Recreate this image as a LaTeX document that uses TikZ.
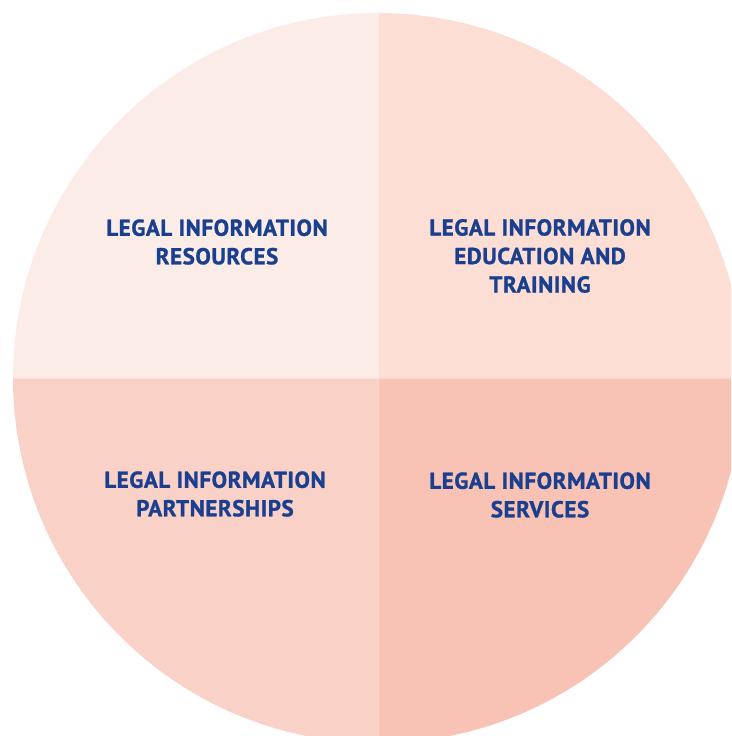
\documentclass[tikz,border=0pt]{standalone}
\usepackage{fontspec}
\setmainfont{PT Sans}
\newfontfamily\piefont{PT Sans}[LetterSpace=2.5,BoldFeatures={FakeBold=1.2}]
\usepackage{tikz}
\usetikzlibrary{positioning}
\definecolor{pieA}{HTML}{FCECE8}
\definecolor{pieB}{HTML}{FCDED5}
\definecolor{pieC}{HTML}{F9D1C7}
\definecolor{pieD}{HTML}{F8C2B5}
\definecolor{navy}{HTML}{1A3F8E}
\tikzstyle{segtext} = [align=center, text=navy, font=\piefont\fontsize{23}{28.5}\selectfont\bfseries, inner sep=0pt]
\tikzstyle{seam} = [draw=white, draw opacity=0.35, line width=0.8pt]

\begin{document}
\begin{tikzpicture}[x=1pt, y=1pt]
\useasboundingbox (0,0) rectangle (731,736);
\clip (0,0) rectangle (731,736);
\coordinate (mid) at (378,358);
% the four quarters
\fill[pieA] (mid) -- ++(-365,0) arc (180:90:365) -- cycle;
\fill[pieB] (mid) -- ++(0,365) arc (90:0:365) -- cycle;
\fill[pieC] (mid) -- ++(-365,0) arc (180:270:365) -- cycle;
\fill[pieD] (mid) -- ++(0,-365) arc (270:360:365) -- cycle;
\draw[seam] (mid) -- ++(0,365);
\draw[seam] (mid) -- ++(0,-365);
\draw[seam] (mid) -- ++(365,0);
\draw[seam] (mid) -- ++(-365,0);
% labels
\node (res) [segtext] at (217,494) {LEGAL INFORMATION\\RESOURCES};
\node (edu) [segtext] at (540,480) {LEGAL INFORMATION\\EDUCATION AND\\TRAINING};
\node (par) [segtext] at (215,242) {LEGAL INFORMATION\\PARTNERSHIPS};
\node (srv) [segtext] at (540,241) {LEGAL INFORMATION\\SERVICES};
\end{tikzpicture}
\end{document}
